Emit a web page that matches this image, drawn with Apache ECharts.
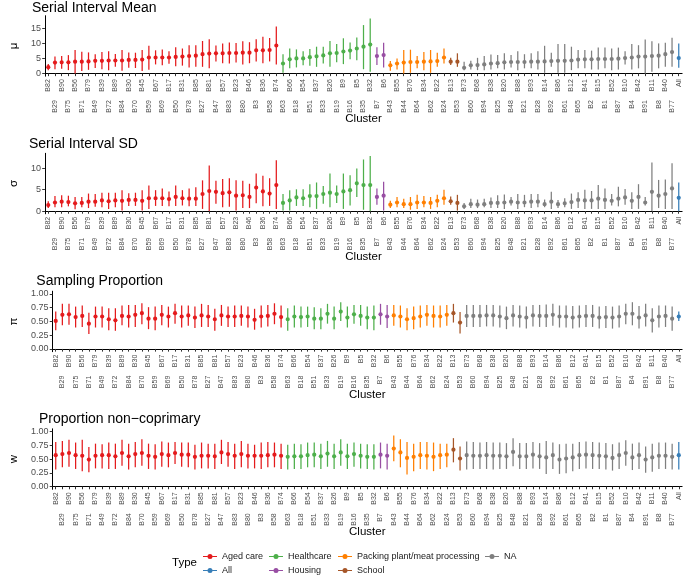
<!DOCTYPE html>
<html><head><meta charset="utf-8">
<script src="https://cdn.jsdelivr.net/npm/echarts@6/dist/echarts.min.js"></script>
<style>html,body{margin:0;padding:0;background:#fff}#c{width:685px;height:581px}</style>
</head><body><div id="c"></div><script>
const clusters = ["B82","B29","B90","B75","B56","B71","B79","B49","B39","B72","B89","B84","B30","B70","B45","B59","B67","B69","B17","B50","B31","B78","B85","B27","B81","B47","B57","B83","B23","B80","B46","B3","B36","B58","B74",
"B63","B66","B18","B54","B51","B37","B33","B26","B19","B9","B16","B5","B35","B32",
"B7","B6",
"B43","B55","B44","B76","B64","B34","B62","B22","B24",
"B13","B53",
"B73","B60","B68","B94","B38","B25","B20","B48","B88","B21","B93","B28","B14","B92","B86","B61","B12","B65","B41","B2","B15","B1","B52","B87","B10","B4","B42","B91","B11","B8","B40","B77",
"All"];
const typeOrder = ["Aged care","Healthcare","Housing","Packing plant/meat processing","School","NA","All"];
const typeCounts = [35,14,2,9,2,32,1];
const typeColors = ["#E41A1C","#4DAF4A","#984EA3","#FF7F00","#A65628","#7F7F7F","#377EB8"];

const muMid = [2.1,3.6,3.7,3.7,3.9,3.9,4.0,4.2,4.2,4.3,4.3,4.3,4.5,4.5,4.6,5.3,5.3,5.3,5.3,5.5,5.6,5.8,5.9,6.4,6.6,6.7,6.7,6.8,6.8,6.9,6.9,7.7,7.7,7.8,9.3,
3.3,4.7,5.0,5.0,5.4,5.7,6.0,6.7,6.8,7.3,7.6,8.3,8.9,9.6,
5.8,6.1,
2.7,3.3,3.6,3.8,3.8,3.9,4.0,4.1,5.3,
3.9,3.9,
1.9,2.7,2.8,3.0,3.3,3.4,3.7,3.8,3.8,3.8,3.9,3.9,4.0,4.1,4.2,4.2,4.3,4.6,4.7,4.7,4.8,4.8,4.8,4.9,5.1,5.3,5.6,5.6,5.8,5.9,6.4,7.1,
5.1];
const muLo = [1.1,1.4,1.6,1.1,0.0,0.8,1.2,1.8,1.4,1.1,2.2,0.9,1.9,1.8,0.8,1.2,3.0,2.7,3.2,2.4,2.6,2.0,2.2,2.2,1.7,4.0,3.4,3.3,3.6,3.0,3.4,4.0,3.4,4.0,3.0,
0.2,1.7,2.0,2.7,2.6,2.2,3.3,2.2,3.7,3.1,4.7,4.4,1.4,0.6,
2.8,2.0,
0.9,1.3,0.0,0.2,1.7,1.1,0.2,2.2,3.3,
2.8,2.2,
1.1,1.3,1.1,1.1,1.3,1.7,1.3,2.0,1.1,1.7,1.7,1.3,0.2,2.2,0.2,0.2,1.1,1.7,1.7,1.3,1.3,1.7,1.1,1.3,3.0,1.3,1.7,0.0,0.6,1.7,2.2,2.2,
1.9];
const muHi = [3.1,5.6,5.8,6.1,7.8,7.2,7.0,6.4,7.1,7.4,6.5,7.8,7.0,6.9,7.8,9.2,7.7,8.0,7.4,8.7,8.3,9.4,9.4,10.8,11.4,9.3,10.0,10.3,10.1,10.7,10.4,11.4,12.2,11.8,15.6,
6.4,8.3,8.0,7.4,8.1,8.9,8.9,10.8,9.8,11.7,10.3,12.0,16.1,18.3,
8.7,10.2,
4.1,5.0,7.8,7.9,5.8,7.1,7.8,6.9,8.3,
5.2,6.7,
3.9,4.2,5.2,5.8,6.3,6.1,6.7,6.1,7.4,6.4,6.7,7.4,9.2,6.9,9.8,9.8,8.9,7.8,7.8,7.6,8.6,8.6,8.3,8.6,7.4,9.8,9.4,11.3,10.7,10.0,10.2,11.9,
10.0];

const sdMid = [1.4,2.0,2.2,2.1,1.8,1.9,2.2,2.2,2.5,2.3,2.5,2.4,2.6,2.6,2.4,3.0,3.0,3.0,2.8,3.3,3.0,2.9,2.9,4.0,4.7,4.5,4.2,4.4,3.6,3.7,3.3,5.5,4.6,4.1,6.1,
1.9,2.5,3.2,3.0,3.5,3.5,4.0,4.3,4.0,4.6,4.9,6.5,6.1,6.1,
3.3,3.6,
1.5,2.0,1.6,1.6,2.0,2.0,1.9,2.4,3.0,
2.3,1.9,
1.1,1.6,1.5,1.6,1.9,1.9,2.0,2.2,2.0,2.0,2.2,2.2,1.6,2.2,1.6,1.8,2.1,2.6,2.5,2.5,2.9,2.6,2.4,2.9,3.2,2.4,3.3,2.0,4.5,3.6,4.0,5.3,
3.1];
const sdLo = [0.7,0.9,0.9,1.1,0.4,0.9,0.7,1.0,0.9,0.5,0.9,0.1,1.2,1.2,0.1,0.5,1.2,1.2,1.1,1.2,1.3,1.1,1.2,0.5,0.0,1.7,0.9,1.0,0.1,0.7,0.7,1.8,1.1,1.2,0.5,
0.1,0.1,1.2,1.2,0.9,0.5,1.7,0.9,1.9,0.5,1.3,3.3,0.3,0.0,
1.5,0.1,
0.7,0.9,0.7,0.3,0.5,0.9,0.5,0.9,1.5,
1.5,0.1,
0.5,0.7,0.7,0.9,0.7,0.7,0.5,1.3,0.5,0.9,0.7,0.9,0.9,0.5,0.7,0.9,0.5,0.7,0.5,0.5,0.5,0.5,1.3,1.1,1.5,0.5,0.5,1.3,0.0,0.7,0.5,0.5,
0.0];
const sdHi = [2.3,3.5,3.7,3.6,3.3,3.3,4.1,4.0,4.3,4.3,4.3,4.9,4.2,4.3,4.9,6.0,4.9,5.3,4.6,6.0,4.9,5.3,5.6,7.2,10.7,7.1,7.5,7.7,7.2,7.1,6.4,8.8,8.3,7.7,11.9,
4.0,4.9,5.1,5.1,6.3,6.7,5.9,8.8,6.0,8.8,8.4,10.0,12.1,12.9,
5.3,6.9,
2.4,3.3,2.9,3.3,3.8,3.5,3.3,3.8,5.0,
3.4,3.8,
1.9,2.9,2.7,2.9,3.2,3.7,3.9,3.3,4.0,3.8,4.0,4.0,2.7,4.5,2.6,3.0,4.1,4.4,5.0,4.7,6.1,5.3,4.0,5.7,5.2,4.4,6.3,3.3,11.4,7.3,7.4,11.2,
6.7];

const piMid = [0.51,0.62,0.63,0.58,0.60,0.46,0.59,0.59,0.54,0.52,0.60,0.59,0.62,0.65,0.55,0.55,0.62,0.59,0.65,0.59,0.61,0.57,0.61,0.59,0.54,0.61,0.59,0.59,0.60,0.59,0.53,0.59,0.60,0.64,0.58,
0.54,0.59,0.58,0.59,0.55,0.55,0.64,0.55,0.68,0.57,0.63,0.60,0.57,0.57,
0.63,0.59,
0.61,0.59,0.54,0.56,0.59,0.62,0.60,0.59,0.62,
0.65,0.48,
0.60,0.60,0.60,0.61,0.61,0.59,0.56,0.61,0.59,0.57,0.61,0.60,0.60,0.62,0.59,0.59,0.57,0.59,0.60,0.60,0.57,0.58,0.57,0.59,0.64,0.64,0.57,0.61,0.52,0.59,0.60,0.55,
0.59];
const piLo = [0.34,0.43,0.44,0.39,0.40,0.27,0.39,0.39,0.34,0.33,0.43,0.39,0.40,0.45,0.36,0.34,0.43,0.39,0.46,0.39,0.42,0.38,0.40,0.40,0.33,0.42,0.40,0.40,0.42,0.39,0.35,0.39,0.41,0.45,0.39,
0.33,0.39,0.39,0.40,0.36,0.36,0.46,0.36,0.51,0.39,0.46,0.42,0.36,0.34,
0.44,0.38,
0.42,0.39,0.34,0.36,0.39,0.42,0.39,0.39,0.42,
0.48,0.28,
0.40,0.40,0.40,0.41,0.41,0.39,0.36,0.41,0.39,0.37,0.41,0.40,0.40,0.42,0.39,0.39,0.37,0.39,0.40,0.40,0.37,0.38,0.37,0.39,0.45,0.43,0.37,0.41,0.30,0.39,0.40,0.33,
0.51];
const piHi = [0.68,0.82,0.82,0.77,0.79,0.66,0.77,0.77,0.74,0.74,0.79,0.80,0.80,0.83,0.76,0.77,0.80,0.77,0.82,0.79,0.79,0.77,0.82,0.80,0.73,0.80,0.77,0.79,0.79,0.77,0.73,0.79,0.80,0.83,0.79,
0.74,0.79,0.77,0.77,0.76,0.74,0.82,0.77,0.85,0.77,0.80,0.80,0.77,0.79,
0.82,0.80,
0.80,0.79,0.74,0.77,0.79,0.80,0.79,0.79,0.80,
0.82,0.67,
0.80,0.80,0.80,0.80,0.80,0.79,0.77,0.80,0.79,0.77,0.80,0.80,0.81,0.82,0.79,0.79,0.78,0.79,0.80,0.80,0.77,0.78,0.77,0.79,0.82,0.85,0.78,0.82,0.74,0.79,0.79,0.77,
0.68];

const wMid = [0.57,0.59,0.61,0.57,0.56,0.49,0.56,0.57,0.57,0.55,0.61,0.55,0.59,0.61,0.56,0.54,0.59,0.57,0.61,0.58,0.58,0.54,0.56,0.56,0.55,0.62,0.59,0.56,0.59,0.56,0.56,0.56,0.57,0.58,0.56,
0.54,0.55,0.55,0.57,0.58,0.55,0.60,0.55,0.62,0.55,0.59,0.56,0.54,0.54,
0.58,0.56,
0.69,0.62,0.52,0.54,0.57,0.56,0.54,0.57,0.58,
0.67,0.51,
0.57,0.56,0.56,0.57,0.56,0.56,0.55,0.63,0.55,0.55,0.58,0.55,0.53,0.57,0.49,0.51,0.53,0.57,0.58,0.57,0.56,0.55,0.52,0.57,0.61,0.53,0.57,0.49,0.53,0.56,0.56,0.54,
0.57];
const wLo = [0.31,0.35,0.36,0.32,0.28,0.26,0.33,0.33,0.32,0.32,0.38,0.31,0.35,0.38,0.32,0.31,0.36,0.35,0.41,0.36,0.35,0.31,0.33,0.33,0.32,0.41,0.36,0.32,0.35,0.33,0.33,0.32,0.35,0.35,0.32,
0.31,0.32,0.32,0.35,0.35,0.32,0.36,0.32,0.38,0.32,0.36,0.33,0.32,0.31,
0.33,0.31,
0.46,0.35,0.22,0.28,0.32,0.31,0.28,0.32,0.35,
0.44,0.29,
0.31,0.32,0.32,0.32,0.31,0.32,0.32,0.37,0.32,0.32,0.33,0.32,0.23,0.32,0.23,0.24,0.28,0.32,0.33,0.32,0.32,0.31,0.29,0.32,0.38,0.30,0.32,0.25,0.27,0.32,0.32,0.31,
0.31];
const wHi = [0.81,0.83,0.85,0.80,0.85,0.72,0.78,0.77,0.80,0.78,0.85,0.78,0.81,0.86,0.78,0.77,0.82,0.80,0.81,0.80,0.80,0.76,0.80,0.78,0.78,0.85,0.81,0.78,0.83,0.78,0.76,0.80,0.81,0.80,0.78,
0.76,0.78,0.77,0.80,0.80,0.78,0.83,0.78,0.86,0.78,0.80,0.78,0.77,0.77,
0.80,0.78,
0.93,0.86,0.81,0.78,0.81,0.81,0.80,0.78,0.78,
0.88,0.73,
0.82,0.81,0.80,0.81,0.80,0.80,0.79,0.88,0.79,0.79,0.81,0.79,0.83,0.80,0.77,0.78,0.78,0.81,0.82,0.81,0.80,0.79,0.77,0.80,0.84,0.78,0.80,0.73,0.78,0.80,0.80,0.78,
0.81];

const panelTitles = ["Serial Interval Mean","Serial Interval SD","Sampling Proportion","Proportion non\u2212coprimary"];
const yNames = ["\u03bc","\u03c3","\u03c0","w"];
const yTicks = [[0,5,10,15],[0,5,10],[0,0.25,0.5,0.75,1],[0,0.25,0.5,0.75,1]];

// layout
const FONT = "Liberation Sans";
const layout = [
  {left:32.0, top:15.7, min:-0.92, max:19.22, titleTop:1.5, nameGap:19, dec:0},
  {left:29.0, top:153.3, min:-0.65, max:13.55, titleTop:137.5, nameGap:19.5, dec:0},
  {left:36.3, top:291.2, min:-0.05, max:1.05, titleTop:274.5, nameGap:28, dec:2},
  {left:39.0, top:428.8, min:-0.05, max:1.05, titleTop:412.5, nameGap:28.5, dec:2}
];
const GRID_H = 60.5, RIGHT = 2.9;
const values = [[muMid,muLo,muHi],[sdMid,sdLo,sdHi],[piMid,piLo,piHi],[wMid,wLo,wHi]];

const typeOfIdx = [];
typeOrder.forEach((t,i)=>{ for(let k=0;k<typeCounts[i];k++) typeOfIdx.push(i); });

function renderItem(params, api){
  const x = api.value(0);
  const pM = api.coord([x, api.value(1)]);
  const pL = api.coord([x, api.value(2)]);
  const pH = api.coord([x, api.value(3)]);
  const color = api.visual('color');
  return {type:'group', children:[
    {type:'line', shape:{x1:pL[0], y1:pL[1], x2:pH[0], y2:pH[1]}, style:{stroke:color, lineWidth:1.25}},
    {type:'circle', shape:{cx:pM[0], cy:pM[1], r:2.1}, style:{fill:color}}
  ]};
}

const grids=[], xAxes=[], yAxes=[], series=[], titles=[];
layout.forEach((L,p)=>{
  grids.push({left:L.left, right:RIGHT, top:L.top, height:GRID_H});
  titles.push({text:panelTitles[p], left:L.left, top:L.titleTop, padding:0,
    textStyle:{fontFamily:FONT, fontSize:14, fontWeight:'normal', color:'#000'}});
  xAxes.push({type:'category', gridIndex:p, data:clusters, boundaryGap:true,
    axisLine:{show:true, lineStyle:{color:'#000', width:1}},
    axisTick:{show:true, interval:0, alignWithLabel:true, length:2.7, lineStyle:{color:'#333', width:1}},
    axisLabel:{interval:(i)=>i%2===0, rotate:90, fontFamily:FONT, fontSize:7, color:'#4D4D4D', margin:3},
    name:'Cluster', nameLocation:'middle', nameGap:37,
    nameTextStyle:{fontFamily:FONT, fontSize:11.5, color:'#000'}});
  xAxes.push({type:'category', gridIndex:p, data:clusters, boundaryGap:true, position:'bottom',
    axisLine:{show:false}, axisTick:{show:false},
    axisLabel:{interval:(i)=>i%2===1, rotate:90, fontFamily:FONT, fontSize:7, color:'#4D4D4D', margin:24}});
  yAxes.push({type:'value', gridIndex:p, min:L.min, max:L.max,
    axisLine:{show:true, lineStyle:{color:'#000', width:1}},
    axisTick:{show:true, length:2.7, customValues:yTicks[p], lineStyle:{color:'#333'}},
    axisLabel:{customValues:yTicks[p], fontFamily:FONT, fontSize:9, color:'#4D4D4D', margin:4,
      formatter:(v)=> L.dec ? Number(v).toFixed(L.dec) : String(v)},
    splitLine:{show:false},
    name:yNames[p], nameLocation:'middle', nameGap:L.nameGap, nameRotate:90,
    nameTextStyle:{fontFamily:FONT, fontSize:11.5, color:'#000'}});
  const [mid,lo,hi] = values[p];
  typeOrder.forEach((t,ti)=>{
    const data=[];
    for(let i=0;i<clusters.length;i++){ if(typeOfIdx[i]===ti) data.push([i, mid[i], lo[i], hi[i]]); }
    series.push({type:'custom', name:t, xAxisIndex:2*p, yAxisIndex:p, renderItem,
      itemStyle:{color:typeColors[ti]}, encode:{x:0, y:[1,2,3]}, data, clip:false});
  });
});

titles.push({text:'Type', left:172, top:557, padding:0, textStyle:{fontFamily:FONT, fontSize:11.5, fontWeight:'normal', color:'#000'}});

const icon = 'path://M0,1.9H4.5V3.1H0Z M9.5,1.9H14V3.1H9.5Z M4.5,2.5A2.5,2.5 0 1,0 9.5,2.5A2.5,2.5 0 1,0 4.5,2.5Z';
const legendCols = [[203,['Aged care','All']],[269,['Healthcare','Housing']],[338,['Packing plant/meat processing','School']],[485,['NA']]];
const legends = legendCols.map(([x,d])=>({left:x, top:552, orient:'vertical', padding:0, itemGap:5,
  itemWidth:14, itemHeight:5, icon, data:d, selectedMode:false,
  textStyle:{fontFamily:FONT, fontSize:9, color:'#1a1a1a', padding:[0,0,0,0]}}));

const chart = echarts.init(document.getElementById('c'), null, {renderer:'canvas'});
chart.setOption({animation:false, backgroundColor:'#fff', title:titles, grid:grids, xAxis:xAxes, yAxis:yAxes, legend:legends, series});
</script></body></html>
